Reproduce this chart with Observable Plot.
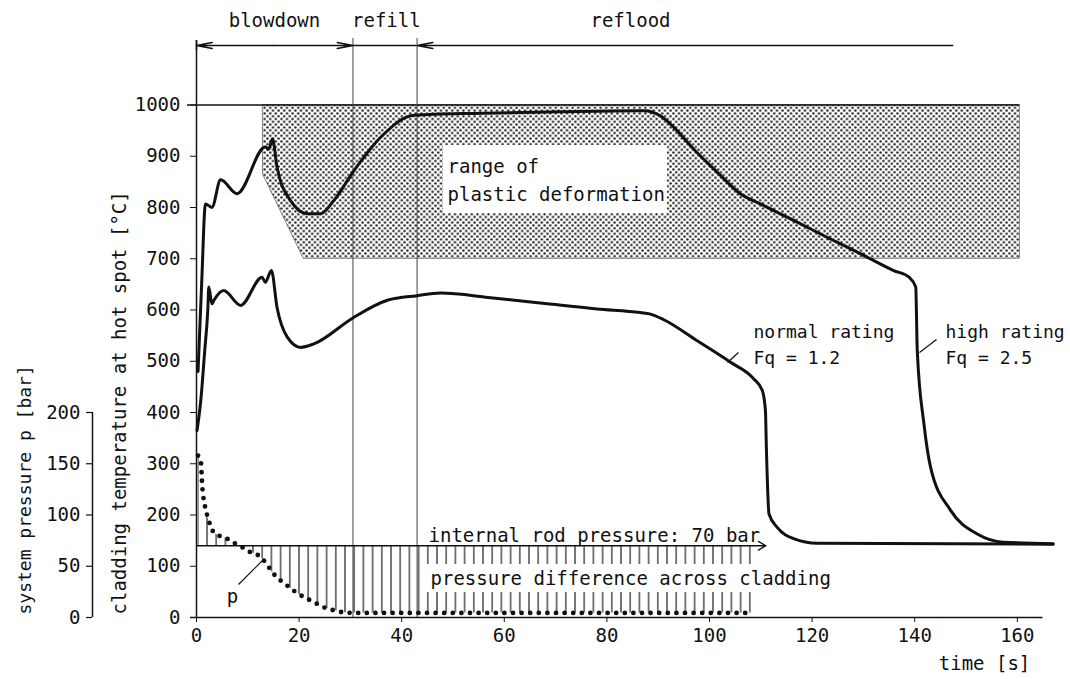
<!DOCTYPE html>
<html><head><meta charset="utf-8">
<script src="https://cdn.jsdelivr.net/npm/d3@7"></script>
<script src="https://cdn.jsdelivr.net/npm/@observablehq/plot@0.6"></script>
<style>body{margin:0;background:#fff}</style>
</head><body><div id="chart"></div>
<script>
// ---------- data ----------
const xTicks = [0, 20, 40, 60, 80, 100, 120, 140, 160];
const tempTicks = [0, 100, 200, 300, 400, 500, 600, 700, 800, 900, 1000];
const pressureTicks = [0, 50, 100, 150, 200];

// high rating Fq = 2.5 (cladding temperature, °C)
const highTime = [0.3, 1.0, 1.75, 3.0, 4.7, 7.9, 13.4, 14.1, 14.8, 15.7, 18.3, 21.6, 24.2, 26.8, 30.7, 35.9, 42.4, 55.4, 71, 87.2, 90.4, 93, 96.9, 101.5, 106, 109.9, 116.4, 122.9, 129.4, 135.9, 138.9, 140.2, 140.5, 141.8, 143.1, 147, 152.2, 157.3, 167];
const highTemp = [480, 650, 807, 800, 854, 827, 918, 914, 934, 879, 814, 788, 788, 814, 872, 937, 980, 984, 987, 989, 979, 957, 914, 869, 827, 807, 775, 742, 710, 677, 664, 645, 521, 378, 293, 209, 163, 147, 144];

// normal rating Fq = 1.2
const normalTime = [0.1, 0.8, 1.6, 2.2, 2.4, 3.0, 3.4, 5.3, 8.6, 12.8, 13.4, 14.6, 15.7, 17.7, 20.3, 22.9, 30.7, 37.2, 43, 47.6, 57.3, 68.4, 78.1, 86.5, 88.5, 91.1, 97.6, 104.1, 108.6, 110.3, 110.9, 111.1, 111.6, 113.2, 116.4, 121, 167];
const normalTemp = [365, 420, 520, 600, 645, 612, 619, 638, 609, 664, 654, 677, 605, 547, 527, 534, 586, 619, 628, 633, 624, 612, 602, 595, 592, 581, 540, 498, 466, 443, 404, 326, 202, 176, 154, 145, 143];

// system pressure p (bar)
const pTime = [0.3, 0.9, 1.0, 1.1, 1.3, 1.56, 1.75, 2.1, 2.6, 3.1, 4.35, 6.0, 7.6, 8.9, 10.5, 12.1, 13.4, 14.8, 16.4, 17.7, 19, 20.9, 22.9, 24.8, 26.8, 28.7, 30.7, 40, 60, 80, 100, 108.5];
const pBar = [158, 150, 140, 130, 119, 111, 106, 99.5, 91.4, 85, 80, 76.8, 71.9, 68.6, 63.7, 60.5, 54, 44, 36, 31, 26, 20, 15, 10, 7, 5, 4.5, 4.5, 4.5, 4.5, 4.5, 4.5];

const rodPressure = 70;          // internal rod pressure, bar
const barToDeg = 2;              // 200 bar on the pressure axis ↔ 400 °C

const phaseBounds = [0, 30.5, 43, 147.4];
const phaseNames = ["blowdown", "refill", "reflood"];
const phaseLabelTime = [15.2, 37, 84.6];

const plasticTime = [13, 20.9, 160.5];
const plasticLow = [864, 700, 700];
const plasticHigh = 1000;

// ---------- tables ----------
const high = highTime.map((t, i) => ({t, T: highTemp[i]}));
const normal = normalTime.map((t, i) => ({t, T: normalTemp[i]}));
const press = pTime.map((t, i) => ({t, p: pBar[i]}));
const plastic = plasticTime.map((t, i) => ({t, lo: plasticLow[i], hi: plasticHigh}));

// ---------- layout helpers (pixel -> data for annotations) ----------
const X = px => (px - 196) / 5.13;
const Y = py => (617 - py) / 0.5125;
const FONT = "DejaVu Sans Mono";
const INK = "#111";

const chart = Plot.plot({
  width: 1070, height: 679,
  marginLeft: 196, marginRight: 1070 - (196 + 5.13 * 165), marginTop: 617 - 0.5125 * 1000, marginBottom: 62,
  style: {fontFamily: FONT, fontSize: "19px", color: INK, background: "#fff", overflow: "visible"},
  x: {domain: [0, 165]},
  y: {domain: [0, 1000]},
  marks: [
    // range of plastic deformation
    Plot.areaY(plastic, {x: "t", y1: "lo", y2: "hi", fill: "url(#dots)", stroke: "#666", strokeWidth: 0.8}),
    Plot.ruleY([plasticHigh], {x1: X(187), x2: 160.5, stroke: INK, strokeWidth: 1.3}),
    Plot.rect([0], {x1: X(443), x2: X(667), y1: Y(213), y2: Y(145), fill: "white"}),
    Plot.text(["range of", "plastic deformation"], {x: X(447), y: (d, i) => Y(166 + 28 * i), text: d => d, textAnchor: "start", fill: INK}),

    // phase boundaries
    Plot.ruleX([phaseBounds[1], phaseBounds[2]], {y1: 0, y2: Y(38), stroke: "#444", strokeWidth: 1}),

    // axes lines
    Plot.ruleX([0], {y1: 0, y2: Y(40), stroke: INK, strokeWidth: 1.5}),
    Plot.ruleY([0], {x1: X(190), x2: 165, stroke: INK, strokeWidth: 1.5}),
    Plot.axisX({ticks: xTicks, tickSize: 5, tickPadding: 6, tickFormat: d => String(d), label: null, fill: INK}),
    Plot.axisY({ticks: tempTicks, tickSize: 6, tickPadding: 10, tickFormat: d => String(d), label: null, fill: INK}),

    // pressure axis
    Plot.ruleX([X(92)], {y1: 0, y2: 200 * barToDeg, stroke: INK, strokeWidth: 1.5}),
    Plot.ruleY(pressureTicks, {y: d => d * barToDeg, x1: X(86), x2: X(92), stroke: INK, strokeWidth: 1.2}),
    Plot.text(pressureTicks, {x: X(80), y: d => d * barToDeg, text: d => String(d), textAnchor: "end", fill: INK}),

    // axis titles
    Plot.text(["cladding temperature at hot spot [°C]"], {x: X(119), y: Y(614), rotate: -90, textAnchor: "start", fill: INK}),
    Plot.text(["system pressure p [bar]"], {x: X(25), y: Y(614), rotate: -90, textAnchor: "start", fontSize: 18, fill: INK}),
    Plot.text(["time [s]"], {x: X(984), y: Y(663), fill: INK}),

    // phase arrows
    Plot.arrow([[15, 0], [15, 30.5], [147.4, 43]], {x1: d => d[0], x2: d => d[1], y1: Y(45), y2: Y(45), stroke: INK, strokeWidth: 1.5, headLength: 16, headAngle: 22}),
    Plot.ruleY([Y(45)], {x1: phaseBounds[1], x2: phaseBounds[2], stroke: INK, strokeWidth: 1.3}),
    Plot.ruleX([0], {y1: Y(40), y2: Y(50), stroke: INK, strokeWidth: 1.5}),
    Plot.text(phaseNames, {x: (d, i) => phaseLabelTime[i], y: Y(20), text: d => d, fill: INK}),

    // pressure difference across cladding (stems)
    Plot.areaY(press, {x: "t", y1: rodPressure * barToDeg, y2: d => d.p * barToDeg, fill: "url(#stems)", curve: "monotone-x"}),
    Plot.rect([0], {x1: X(424), x2: X(836), y1: Y(592), y2: Y(564), fill: "white"}),
    Plot.text(["pressure difference across cladding"], {x: X(430), y: Y(578), textAnchor: "start", fill: INK}),
    Plot.line(press, {x: "t", y: d => d.p * barToDeg, stroke: INK, strokeWidth: 4.8, strokeDasharray: "0 8.6", strokeLinecap: "round", curve: "monotone-x"}),
    Plot.arrow([0], {x1: 0, x2: 111, y1: rodPressure * barToDeg, y2: rodPressure * barToDeg, stroke: INK, strokeWidth: 1.3, headLength: 10, headAngle: 60}),
    Plot.text(["internal rod pressure: " + rodPressure + " bar"], {x: X(428), y: Y(535), textAnchor: "start", fill: INK}),
    Plot.text(["p"], {x: X(232), y: Y(596), fill: INK}),
    Plot.link([0], {x1: X(238), y1: Y(584), x2: X(264), y2: Y(558), stroke: INK, strokeWidth: 1.2}),

    // temperature curves
    Plot.line(high, {x: "t", y: "T", stroke: INK, strokeWidth: 3, curve: "monotone-x"}),
    Plot.line(normal, {x: "t", y: "T", stroke: INK, strokeWidth: 3, curve: "monotone-x"}),

    // curve labels
    Plot.text(["normal rating", "Fq = 1.2"], {x: X(753), y: (d, i) => Y(332 + 26 * i), text: d => d, textAnchor: "start", fontSize: 18, fill: INK}),
    Plot.text(["high rating", "Fq = 2.5"], {x: X(945), y: (d, i) => Y(332 + 26 * i), text: d => d, textAnchor: "start", fontSize: 18, fill: INK}),
    Plot.link([0], {x1: X(727), y1: Y(362), x2: X(738), y2: Y(352), stroke: INK, strokeWidth: 1.2}),
    Plot.link([0], {x1: X(919), y1: Y(352), x2: X(936), y2: Y(339), stroke: INK, strokeWidth: 1.2})
  ]
});

const ns = "http://www.w3.org/2000/svg";
const defs = document.createElementNS(ns, "defs");
defs.innerHTML = `
<pattern id="dots" patternUnits="userSpaceOnUse" width="5.6" height="5.6">
  <circle cx="1.4" cy="1.4" r="1.25" fill="#222"/>
  <circle cx="4.2" cy="4.2" r="1.25" fill="#222"/>
</pattern>
<pattern id="stems" patternUnits="userSpaceOnUse" width="9.2" height="10">
  <line x1="4.6" y1="0" x2="4.6" y2="10" stroke="#333" stroke-width="1.3"/>
</pattern>`;
chart.insertBefore(defs, chart.firstChild);
document.getElementById("chart").appendChild(chart);
</script>
</body></html>
